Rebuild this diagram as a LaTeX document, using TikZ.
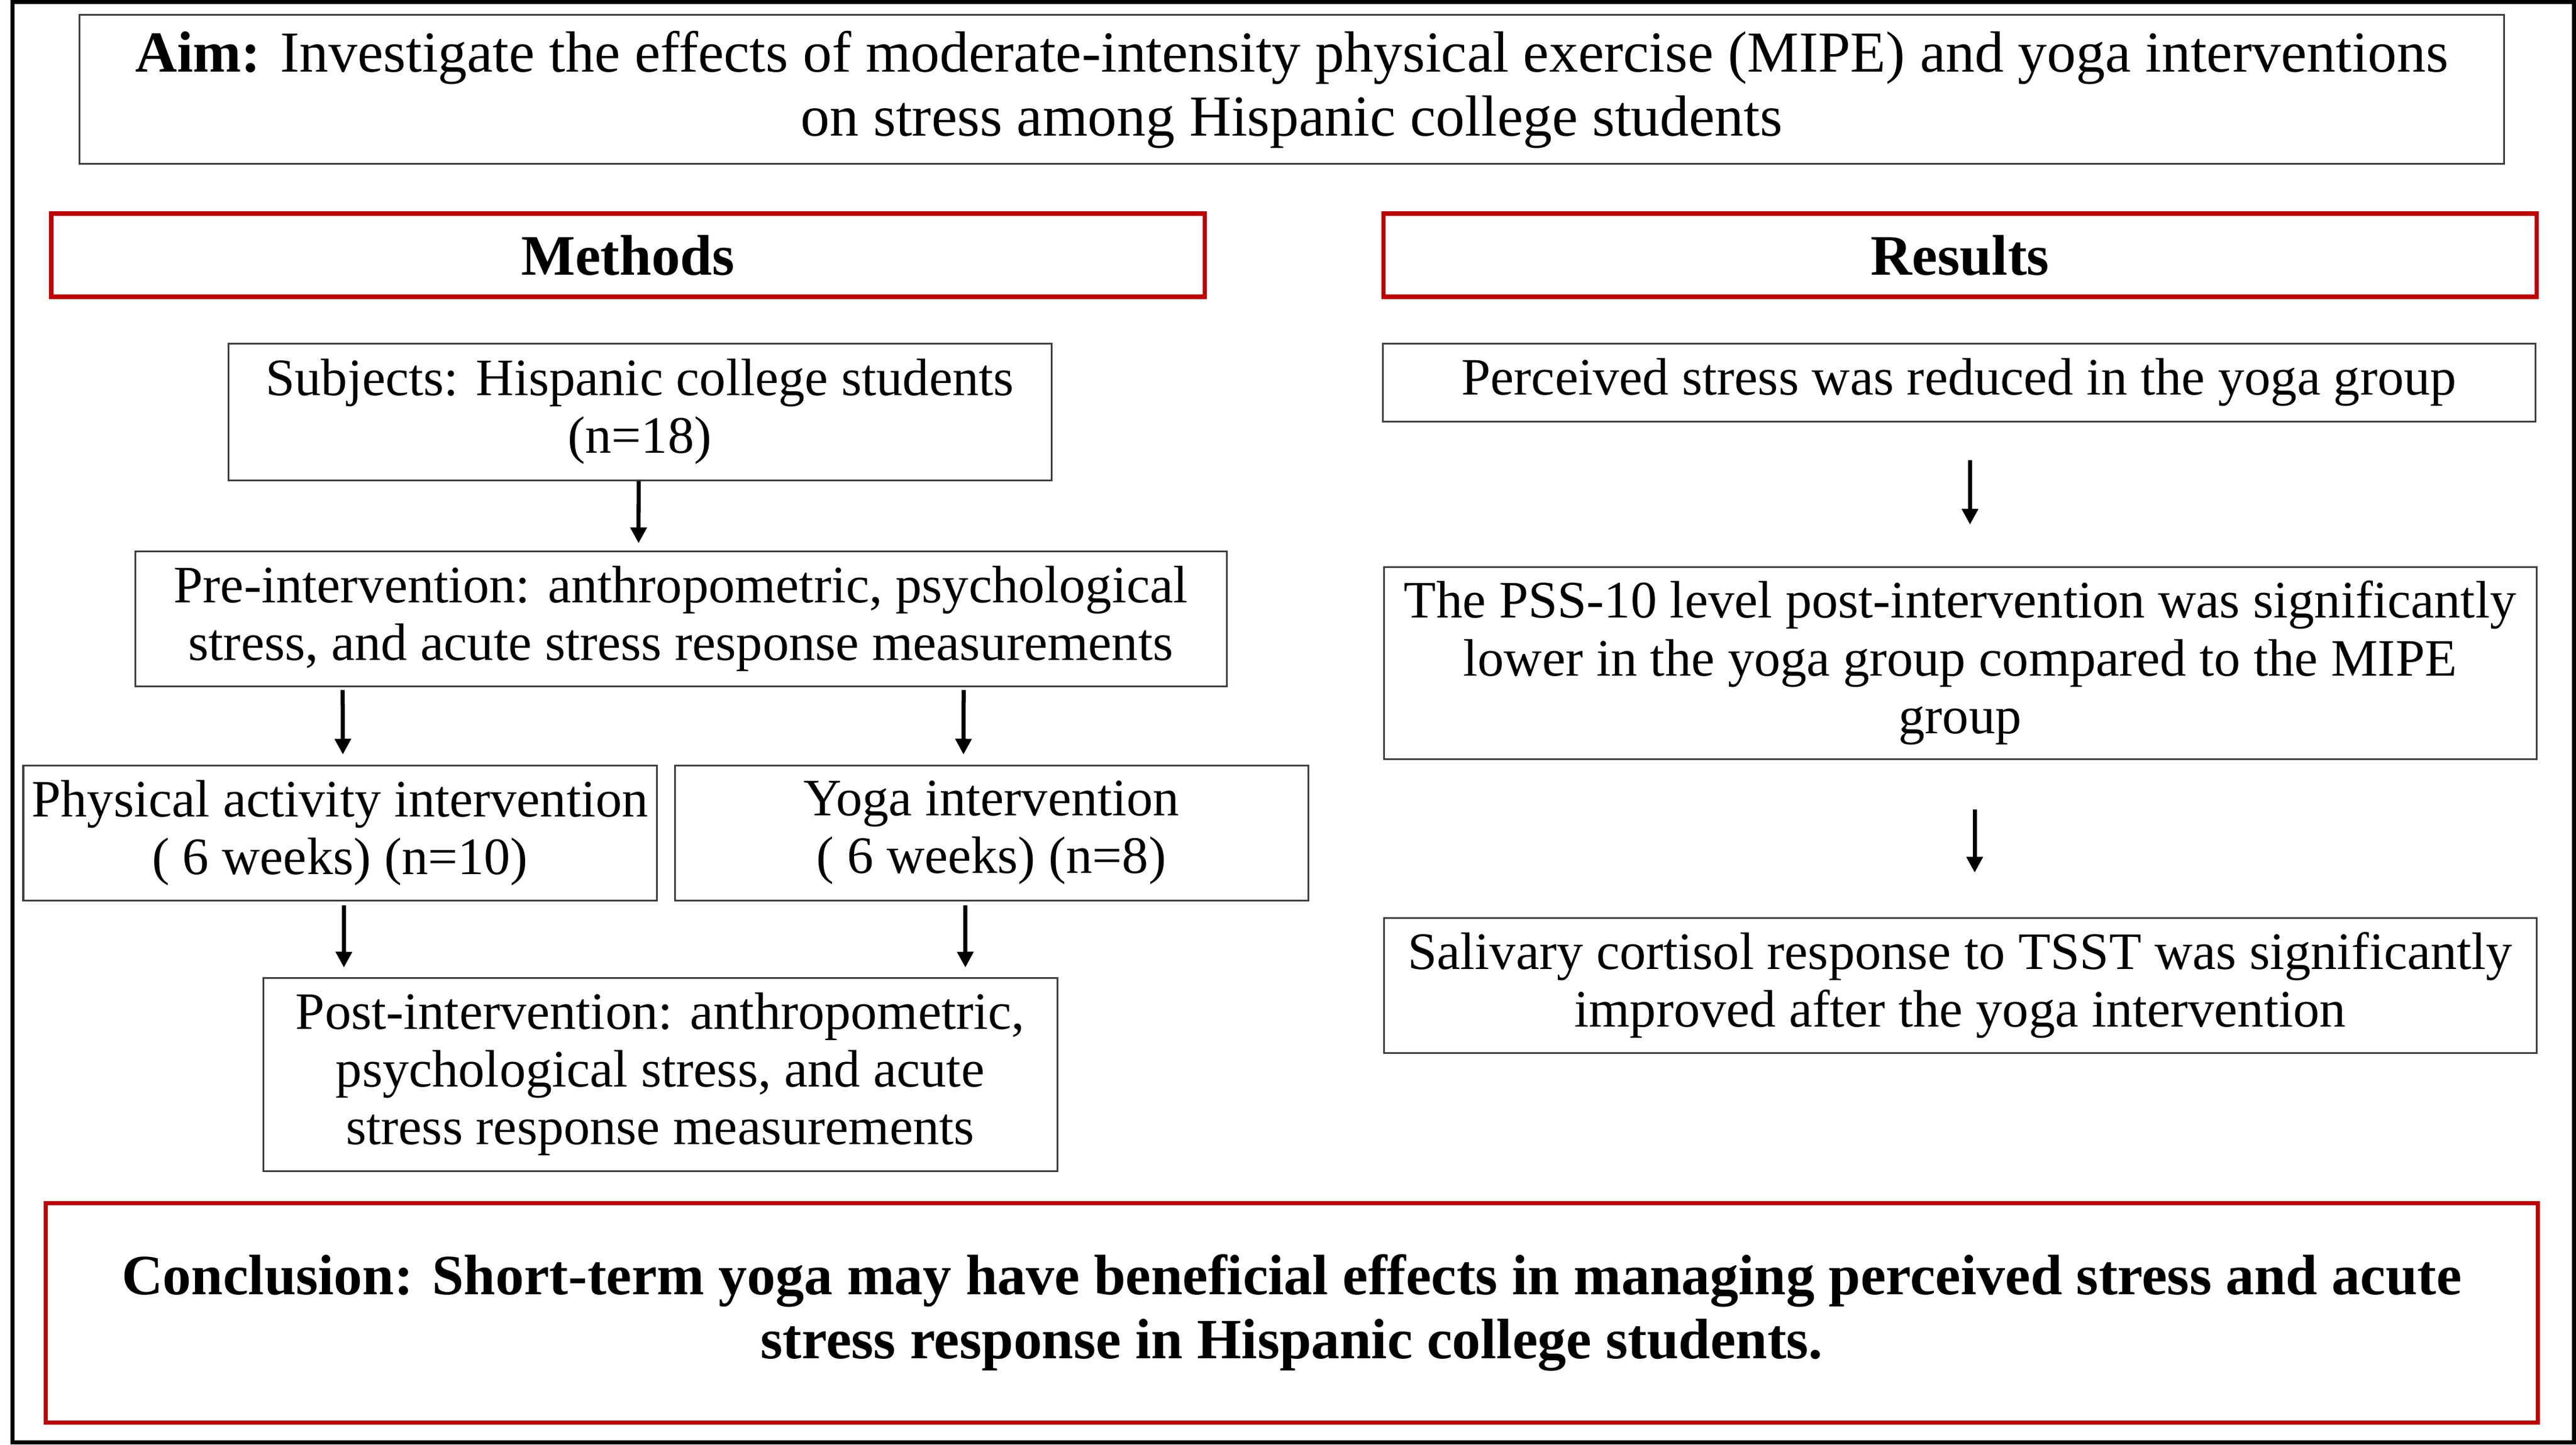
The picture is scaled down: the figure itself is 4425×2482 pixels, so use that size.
\documentclass[tikz,border=0pt]{standalone}
\usepackage{fontspec}
\setmainfont{Liberation Serif}
\usetikzlibrary{arrows.meta}
\definecolor{boxred}{HTML}{C00000}
\definecolor{boxgray}{HTML}{3F3F3F}
\tikzset{
  px/.style={x=0.01cm,y=-0.01cm},
  graybox/.style={draw=boxgray,line width=0.03cm,inner sep=0pt,align=center,
    font=\fontsize{25.7}{28.2}\selectfont},
  redbox/.style={draw=boxred,line width=0.07cm,inner sep=0pt,align=center},
  arr/.style={line width=0.07cm,-{Triangle[length=0.27cm,width=0.27cm]}},
}
\begin{document}
\begin{tikzpicture}[px]
\useasboundingbox (0,0) rectangle (4425,2482);
\draw[line width=0.07cm] (21.5,3.5) rectangle (4421.5,2478.5);

\node[graybox,minimum width=4165*0.01cm,minimum height=256*0.01cm,
  font=\fontsize{28.35}{31.2}\selectfont] (aim) at (2219,154)
  {\textbf{Aim:} Investigate the effects of moderate-intensity physical exercise (MIPE) and yoga interventions\\
   on stress among Hispanic college students};

\node[redbox,minimum width=1981*0.01cm,minimum height=143*0.01cm,
  font=\fontsize{28}{31}\selectfont\bfseries] (methods) at (1078.5,438.5) {Methods};
\node[redbox,minimum width=1981*0.01cm,minimum height=143*0.01cm,
  font=\fontsize{28}{31}\selectfont\bfseries] (results) at (3367,438.5) {Results};

\node[graybox,minimum width=1414*0.01cm,minimum height=235*0.01cm] (subj) at (1099,707.5)
  {Subjects: Hispanic college students\\(n=18)};
\node[graybox,minimum width=1875*0.01cm,minimum height=232*0.01cm] (pre) at (1169.5,1063)
  {Pre-intervention: anthropometric, psychological\\stress, and acute stress response measurements};
\node[graybox,minimum width=1088*0.01cm,minimum height=232*0.01cm] (phys) at (584,1431)
  {Physical activity intervention\\( 6 weeks) (n=10)};
\node[graybox,minimum width=1088*0.01cm,minimum height=232*0.01cm] (yoga) at (1703,1431)
  {Yoga intervention\\( 6 weeks) (n=8)};
\node[graybox,minimum width=1364*0.01cm,minimum height=332*0.01cm] (post) at (1134,1846)
  {Post-intervention: anthropometric,\\psychological stress, and acute\\stress response measurements};

\node[graybox,minimum width=1980*0.01cm,minimum height=134*0.01cm] (perc) at (3365,657)
  {Perceived stress was reduced in the yoga group};
\node[graybox,minimum width=1980*0.01cm,minimum height=330*0.01cm] (pss) at (3367,1139)
  {The PSS-10 level post-intervention was significantly\\lower in the yoga group compared to the MIPE\\group};
\node[graybox,minimum width=1980*0.01cm,minimum height=232*0.01cm] (sal) at (3367,1693)
  {Salivary cortisol response to TSST was significantly\\improved after the yoga intervention};

\node[redbox,minimum width=4281*0.01cm,minimum height=377*0.01cm,
  font=\fontsize{27.85}{31.3}\selectfont\bfseries] (concl) at (2219,2256)
  {Conclusion: Short-term yoga may have beneficial effects in managing perceived stress and acute\\
   stress response in Hispanic college students.};

\draw[arr,shorten >=0.12cm] ([xshift=-0.02cm]subj.south) -- ([xshift=-0.725cm]pre.north);
\draw[arr,shorten <=0.05cm,shorten >=0.17cm] ([xshift=-5.805cm]pre.south) -- ([xshift=0.05cm]phys.north);
\draw[arr,shorten <=0.05cm,shorten >=0.17cm] ([xshift=4.855cm]pre.south) -- ([xshift=-0.48cm]yoga.north);
\draw[arr,shorten <=0.07cm,shorten >=0.16cm] ([xshift=0.07cm]phys.south) -- ([xshift=-5.43cm]post.north);
\draw[arr,shorten <=0.07cm,shorten >=0.16cm] ([xshift=-0.45cm]yoga.south) -- ([xshift=5.24cm]post.north);
\draw[arr,shorten <=0.65cm,shorten >=0.71cm] ([xshift=0.19cm]perc.south) -- ([xshift=0.17cm]pss.north);
\draw[arr,shorten <=0.85cm,shorten >=0.76cm] ([xshift=0.25cm]pss.south) -- ([xshift=0.25cm]sal.north);
\end{tikzpicture}
\end{document}
